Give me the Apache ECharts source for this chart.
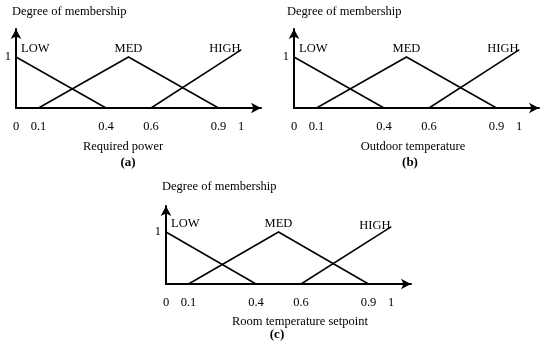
<!DOCTYPE html>
<html><head><meta charset="utf-8">
<script src="https://cdn.jsdelivr.net/npm/echarts@6/dist/echarts.min.js"></script>
<style>html,body{margin:0;padding:0;background:#fff}#c{width:550px;height:353px}</style>
</head><body><div id="c"></div>
<script>
// ---- data ----
const xTickValues = [0, 0.1, 0.4, 0.6, 0.9, 1];
const yTickValues = [1];
const setNames = ['LOW', 'MED', 'HIGH'];
const lowX = [0, 0.4];
const lowY = [1, 0];
const medX = [0.1, 0.5, 0.9];
const medY = [0, 1, 0];
const highX = [0.6, 1.0];
const highYa = [0, 1.14];
const highYb = [0, 1.14];
const highYc = [0, 1.10];
const axisTitles = ['Required power', 'Outdoor temperature', 'Room temperature setpoint'];
const panelTags = ['(a)', '(b)', '(c)'];
const yTitle = 'Degree of membership';

// ---- layout ----
const FONT = 'Liberation Serif';
const panels = [
  {left: 16, top: 29, width: 245, height: 79, xmax: 245/225, ymax: 79/51, highY: highYa,
   yt: [12, 13], at: [123, 147], tg: [128, 163]},
  {left: 294, top: 29, width: 245, height: 79, xmax: 245/225, ymax: 79/51, highY: highYb,
   yt: [287, 13], at: [413, 147], tg: [410, 163]},
  {left: 166, top: 206, width: 245, height: 78, xmax: 245/225, ymax: 78/52, highY: highYc,
   yt: [162, 188], at: [300, 322], tg: [277, 335]}
];

const grid = [], xAxis = [], yAxis = [], series = [], graphic = [];
const axisLine = {show: true, symbol: ['none', 'arrow'], symbolSize: [8, 10],
  lineStyle: {color: '#000', width: 2}};
const baseLabel = {show: true, color: '#000', fontFamily: FONT, fontSize: 12.5};

function pts(xs, ys, labelIdx, name, lab) {
  return xs.map((x, k) => {
    const d = {value: [x, ys[k]]};
    if (k === labelIdx) d.label = Object.assign({}, baseLabel, {formatter: name}, lab);
    return d;
  });
}

panels.forEach((p, i) => {
  grid.push({left: p.left, top: p.top, width: p.width, height: p.height,
    containLabel: false, outerBoundsMode: 'none'});
  xAxis.push({type: 'value', gridIndex: i, min: 0, max: p.xmax,
    axisLine: axisLine, axisTick: {show: false}, splitLine: {show: false},
    axisLabel: {customValues: xTickValues, color: '#000', fontFamily: FONT, fontSize: 12.5,
      margin: 12, formatter: v => String(v)}});
  yAxis.push({type: 'value', gridIndex: i, min: 0, max: p.ymax,
    axisLine: axisLine, axisTick: {show: false}, splitLine: {show: false},
    axisLabel: {customValues: yTickValues, color: '#000', fontFamily: FONT, fontSize: 12.5,
      margin: 5, formatter: v => String(v)}});
  const common = {type: 'line', xAxisIndex: i, yAxisIndex: i, symbol: 'circle', symbolSize: 1,
    showSymbol: true, itemStyle: {color: '#000'}, lineStyle: {color: '#000', width: 1.5},
    silent: true, label: {show: false}};
  series.push(Object.assign({}, common, {name: setNames[0] + i,
    data: pts(lowX, lowY, 0, setNames[0], {position: 'top', align: 'left', offset: [5, 0], distance: 1})}));
  series.push(Object.assign({}, common, {name: setNames[1] + i,
    data: pts(medX, medY, 1, setNames[1], {position: 'top', distance: 1})}));
  series.push(Object.assign({}, common, {name: setNames[2] + i,
    data: pts(highX, p.highY, 1, setNames[2], {position: 'left', distance: 0, offset: [0, -1]})}));
  const ts = {fill: '#000', font: '12.5px "' + FONT + '"', textVerticalAlign: 'middle'};
  graphic.push({type: 'text', left: p.yt[0], top: p.yt[1] - 8,
    style: Object.assign({}, ts, {text: yTitle, textAlign: 'left', textVerticalAlign: 'top'})});
  graphic.push({type: 'text', x: p.at[0], y: p.at[1],
    style: Object.assign({}, ts, {text: axisTitles[i], textAlign: 'center'})});
  graphic.push({type: 'text', x: p.tg[0], y: p.tg[1],
    style: Object.assign({}, ts, {text: panelTags[i], textAlign: 'center', font: 'bold 13px "' + FONT + '"'})});
});

const chart = echarts.init(document.getElementById('c'), null, {renderer: 'canvas'});
chart.setOption({animation: false, backgroundColor: '#fff', grid, xAxis, yAxis, series, graphic});
</script></body></html>
